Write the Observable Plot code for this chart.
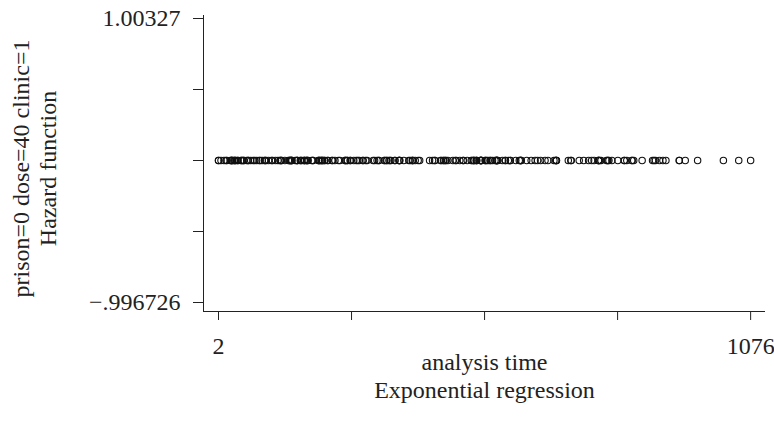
<!DOCTYPE html>
<html>
<head>
<meta charset="utf-8">
<script src="https://cdn.jsdelivr.net/npm/d3@7"></script>
<script src="https://cdn.jsdelivr.net/npm/@observablehq/plot@0.6"></script>
<style>
  html, body { margin: 0; padding: 0; background: #fff; }
</style>
</head>
<body>
<div id="chart"></div>
<script>
// analysis times (_t) at which the fitted hazard is evaluated
const times = [428, 275, 262, 183, 259, 714, 438, 796, 892, 393, 161, 836, 523, 612, 212, 399, 771, 514, 512, 624, 209, 341, 299, 826, 262, 566, 368, 302, 602, 652, 293, 564, 394, 755, 591, 787, 739, 550, 837, 612, 581, 523, 504, 785, 774, 560, 160, 482, 518, 683, 147, 563, 646, 899, 857, 180, 452, 760, 496, 258, 181, 386, 439, 563, 337, 613, 192, 405, 667, 905, 247, 821, 821, 517, 346, 294, 244, 95, 376, 212, 96, 532, 522, 679, 408, 840, 148, 168, 489, 541, 205, 475, 237, 517, 749, 150, 465, 708, 713, 146, 450, 555, 460, 53, 122, 35, 532, 684, 769, 591, 769, 609, 932, 932, 587, 26, 72, 641, 367, 633, 661, 232, 13, 563, 969, 1052, 944, 881, 190, 79, 884, 170, 286, 358, 326, 769, 161, 564, 268, 611, 322, 1076, 2, 788, 575, 109, 730, 790, 456, 231, 143, 86, 1021, 684, 878, 216, 808, 268, 222, 683, 496, 389, 126, 17, 350, 531, 317, 461, 37, 167, 358, 49, 457, 127, 7, 29, 62, 150, 223, 129, 204, 129, 581, 176, 30, 41, 543, 210, 193, 434, 367, 348, 28, 337, 175, 149, 546, 84, 283, 533, 207, 216, 28, 67, 62, 111, 257, 136, 342, 41, 531, 98, 145, 50, 53, 103, 2, 157, 75, 19, 35, 394, 117, 175, 180, 314, 480, 325, 280, 204, 366, 531, 59, 33, 540, 551, 90, 47];
// exponential model: constant hazard
const hazardValue = 0.0032722;

const xTicks = [2, 270.5, 539, 807.5, 1076];
const xTickLabels = ["2", "", "", "", "1076"];
const yTicks = [-0.996726, -0.496727, 0.003272, 0.503271, 1.00327];
const yTickLabels = ["\u2212.996726", "", "", "", "1.00327"];

const xTitle = "analysis time";
const caption = "Exponential regression";
const yTitle1 = "prison=0 dose=40 clinic=1";
const yTitle2 = "Hazard function";

const data = times.map(t => ({time: t, hazard: hazardValue}));
const xDomain = [-28.3, 1106];
const yDomain = [-1.0601, 1.0244];

const chart = Plot.plot({
  width: 774,
  height: 425,
  marginLeft: 203,
  marginRight: 9,
  marginTop: 15,
  marginBottom: 114,
  style: {fontFamily: "'Liberation Serif', 'Times New Roman', serif", fontSize: "24px", color: "#222", background: "#fff"},
  x: {domain: xDomain},
  y: {domain: yDomain},
  marks: [
    Plot.axisX({ticks: xTicks, tickFormat: (d, i) => xTickLabels[i], tickSize: 9, tickPadding: 16, label: null, stroke: "#222"}),
    Plot.axisY({ticks: yTicks, tickFormat: (d, i) => yTickLabels[i], tickSize: 10, tickPadding: 13, label: null, stroke: "#222"}),
    Plot.ruleX([xDomain[0]], {stroke: "#222", strokeWidth: 1}),
    Plot.ruleY([yDomain[0]], {stroke: "#222", strokeWidth: 1}),
    Plot.dot(data, {x: "time", y: "hazard", r: 3.2, stroke: "#111", strokeWidth: 1.1, fill: "none"}),
    Plot.text([xTitle], {frameAnchor: "bottom", dy: 51, lineAnchor: "middle", textAnchor: "middle", fill: "#222"}),
    Plot.text([caption], {frameAnchor: "bottom", dy: 79, lineAnchor: "middle", textAnchor: "middle", fill: "#222"}),
    Plot.text([yTitle1], {frameAnchor: "left", dx: -182, dy: 5, rotate: -90, lineAnchor: "middle", textAnchor: "middle", fill: "#222"}),
    Plot.text([yTitle2], {frameAnchor: "left", dx: -155, dy: 5, rotate: -90, lineAnchor: "middle", textAnchor: "middle", fill: "#222"})
  ]
});
document.getElementById("chart").appendChild(chart);
</script>
</body>
</html>
